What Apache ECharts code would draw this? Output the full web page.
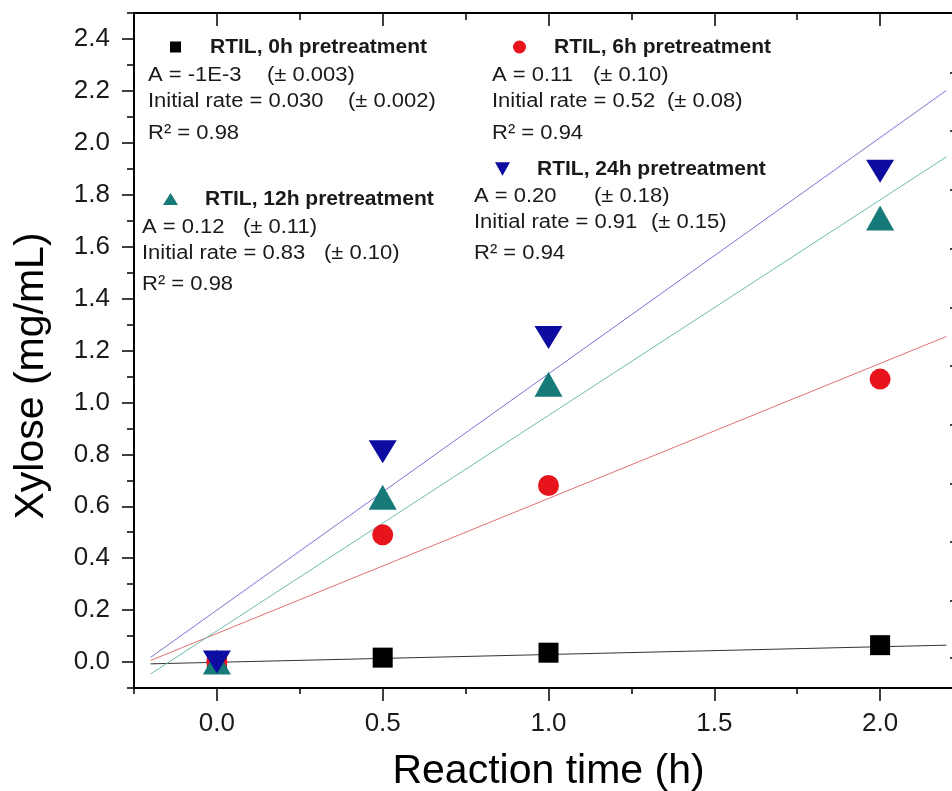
<!DOCTYPE html>
<html>
<head>
<meta charset="utf-8">
<script src="https://cdn.jsdelivr.net/npm/echarts@6/dist/echarts.min.js"></script>
<style>html,body{margin:0;padding:0;background:#fff;}#main{width:952px;height:791px;}</style>
</head>
<body>
<div id="main"></div>
<script>
// ---- data ----
const timeH = [0, 0.5, 1.0, 2.0];
const xylose0h = [0.0, 0.017, 0.036, 0.065];
const xylose6h = [0.0, 0.49, 0.68, 1.09];
const xylose12h = [0.0, 0.635, 1.07, 1.71];
const xylose24h = [0.0, 0.81, 1.25, 1.89];
// fitted lines (end points)
const fitX = [-0.2, 2.2];
const fit0h = [-0.007, 0.065];
const fit6h = [0.006, 1.254];
const fit12h = [-0.046, 1.946];
const fit24h = [0.018, 2.202];
// axis ticks
const xMajor = [0, 0.5, 1.0, 1.5, 2.0];
const xMinor = [-0.25, 0.25, 0.75, 1.25, 1.75, 2.25];
const yMajor = [0, 0.2, 0.4, 0.6, 0.8, 1.0, 1.2, 1.4, 1.6, 1.8, 2.0, 2.2, 2.4];
const yMinor = [-0.1, 0.1, 0.3, 0.5, 0.7, 0.9, 1.1, 1.3, 1.5, 1.7, 1.9, 2.1, 2.3, 2.5];
const rightTicks = [0.015, 0.238, 0.462, 0.688, 0.915, 1.142, 1.365, 1.592, 1.819, 2.046, 2.269];
const names = ['RTIL, 0h pretreatment', 'RTIL, 6h pretreatment', 'RTIL, 12h pretreatment', 'RTIL, 24h pretreatment'];
const notes = [
  ['A = -1E-3', '(± 0.003)', 'Initial rate = 0.030', '(± 0.002)', 'R² = 0.98'],
  ['A = 0.11', '(± 0.10)', 'Initial rate = 0.52', '(± 0.08)', 'R² = 0.94'],
  ['A = 0.12', '(± 0.11)', 'Initial rate = 0.83', '(± 0.10)', 'R² = 0.98'],
  ['A = 0.20', '(± 0.18)', 'Initial rate = 0.91', '(± 0.15)', 'R² = 0.94']
];

const FONT = '"Liberation Sans", Arial, sans-serif';
const TXT = '#1a1a1a';
const colors = ['#000000', '#e8141c', '#167a78', '#0c0ca0'];
const lineColors = ['#333333', '#e07272', '#6cbdb0', '#7b74d6'];

const pairs = (xs, ys) => xs.map((x, i) => [x, ys[i]]);

const chart = echarts.init(document.getElementById('main'), null, {renderer: 'canvas'});

const noteLayout = [
  {x: 148, xa: 267, xb: 348, ys: [75, 101, 133]},
  {x: 492, xa: 593, xb: 667, ys: [75, 101, 133]},
  {x: 142, xa: 243, xb: 324, ys: [227, 253, 284]},
  {x: 474, xa: 594, xb: 651, ys: [196, 222.5, 253]}
];
const graphics = [];
notes.forEach((n, i) => {
  const L = noteLayout[i];
  const items = [[n[0], L.x, L.ys[0]], [n[1], L.xa, L.ys[0]], [n[2], L.x, L.ys[1]], [n[3], L.xb, L.ys[1]], [n[4], L.x, L.ys[2]]];
  items.forEach(([t, x, y]) => {
    graphics.push({type: 'text', x: x, y: y, scaleX: 1.1, silent: true,
      style: {text: t, x: 0, y: 0, fill: TXT, font: '20px ' + FONT, verticalAlign: 'middle', align: 'left'}});
  });
});
graphics.push({type: 'text', x: 32, y: 376, rotation: Math.PI / 2, silent: true,
  style: {text: 'Xylose (mg/mL)', fill: '#000', font: '41px ' + FONT, align: 'center', verticalAlign: 'middle'}});

const legendLayout = [
  {left: 170, top: 36, w: 11, h: 11, pad: 24, icon: 'rect'},
  {left: 513, top: 36, w: 13, h: 13, pad: 23, icon: 'circle'},
  {left: 163, top: 188, w: 15, h: 12, pad: 22, icon: 'triangle'},
  {left: 495, top: 158, w: 15, h: 14, pad: 22, icon: 'path://M0,0L10,0L5,9Z'}
];
const legends = legendLayout.map((L, i) => ({
  data: [{name: names[i], icon: L.icon}],
  left: L.left, top: L.top, padding: 0, itemWidth: L.w, itemHeight: L.h,
  selectedMode: false,
  textStyle: {fontFamily: FONT, fontSize: 21, fontWeight: 'bold', color: TXT, padding: [0, 0, 0, L.pad], lineHeight: 22}
}));

const symbolDefs = [
  {symbol: 'rect', size: 20, rotate: 0},
  {symbol: 'circle', size: 21, rotate: 0},
  {symbol: 'triangle', size: [28, 25], rotate: 0},
  {symbol: 'triangle', size: [28, 23], rotate: 180}
];
const dataSets = [xylose0h, xylose6h, xylose12h, xylose24h];
const fitSets = [fit0h, fit6h, fit12h, fit24h];

const series = [];
fitSets.forEach((f, i) => {
  series.push({type: 'line', name: 'fit ' + i, data: pairs(fitX, f), showSymbol: false, silent: true,
    xAxisIndex: 0, yAxisIndex: 0, z: 1,
    lineStyle: {color: lineColors[i], width: 1}, itemStyle: {color: lineColors[i]}});
});
dataSets.forEach((d, i) => {
  series.push({type: 'scatter', name: names[i], data: pairs(timeH, d),
    xAxisIndex: 0, yAxisIndex: 0, z: 3 + i,
    symbol: symbolDefs[i].symbol, symbolSize: symbolDefs[i].size, symbolRotate: symbolDefs[i].rotate,
    itemStyle: {color: colors[i], opacity: 1}});
});

const axisLine = {show: true, onZero: false, lineStyle: {color: '#000', width: 2}};
const noLine = {show: false, onZero: false};
const labelStyle = {fontFamily: FONT, fontSize: 26, color: TXT};
const tickStyle = {color: '#000', width: 1.5};

const option = {
  backgroundColor: '#fff',
  animation: false,
  grid: {left: 134, top: 13, width: 829, height: 675, containLabel: false, outerBoundsMode: 'none'},
  legend: legends,
  xAxis: [
    {type: 'value', position: 'bottom', min: -0.25, max: 2.25, axisLine: axisLine,
     axisTick: {show: true, inside: false, length: 13, customValues: xMajor, lineStyle: tickStyle},
     axisLabel: Object.assign({show: true, margin: 23, customValues: xMajor, formatter: v => v.toFixed(1)}, labelStyle),
     splitLine: {show: false},
     name: 'Reaction time (h)', nameLocation: 'middle', nameGap: 63,
     nameTextStyle: {fontFamily: FONT, fontSize: 41, color: '#000'}},
    {type: 'value', position: 'bottom', min: -0.25, max: 2.25, axisLine: noLine,
     axisTick: {show: true, inside: false, length: 6, customValues: xMinor, lineStyle: tickStyle},
     axisLabel: {show: false}, splitLine: {show: false}},
    {type: 'value', position: 'top', min: -0.25, max: 2.25, axisLine: axisLine,
     axisTick: {show: true, inside: true, length: 13, customValues: xMajor, lineStyle: tickStyle},
     axisLabel: {show: false}, splitLine: {show: false}},
    {type: 'value', position: 'top', min: -0.25, max: 2.25, axisLine: noLine,
     axisTick: {show: true, inside: true, length: 7, customValues: xMinor, lineStyle: tickStyle},
     axisLabel: {show: false}, splitLine: {show: false}}
  ],
  yAxis: [
    {type: 'value', position: 'left', min: -0.1, max: 2.5, axisLine: axisLine,
     axisTick: {show: true, inside: false, length: 12, customValues: yMajor, lineStyle: tickStyle},
     axisLabel: Object.assign({show: true, margin: 24, customValues: yMajor, formatter: v => v.toFixed(1)}, labelStyle),
     splitLine: {show: false}},
    {type: 'value', position: 'left', min: -0.1, max: 2.5, axisLine: noLine,
     axisTick: {show: true, inside: false, length: 7, customValues: yMinor, lineStyle: tickStyle},
     axisLabel: {show: false}, splitLine: {show: false}},
    {type: 'value', position: 'right', min: -0.1, max: 2.5, axisLine: noLine,
     axisTick: {show: true, inside: true, length: 13, customValues: rightTicks, lineStyle: tickStyle},
     axisLabel: {show: false}, splitLine: {show: false}}
  ],
  graphic: graphics,
  series: series
};
chart.setOption(option);
</script>
</body>
</html>
